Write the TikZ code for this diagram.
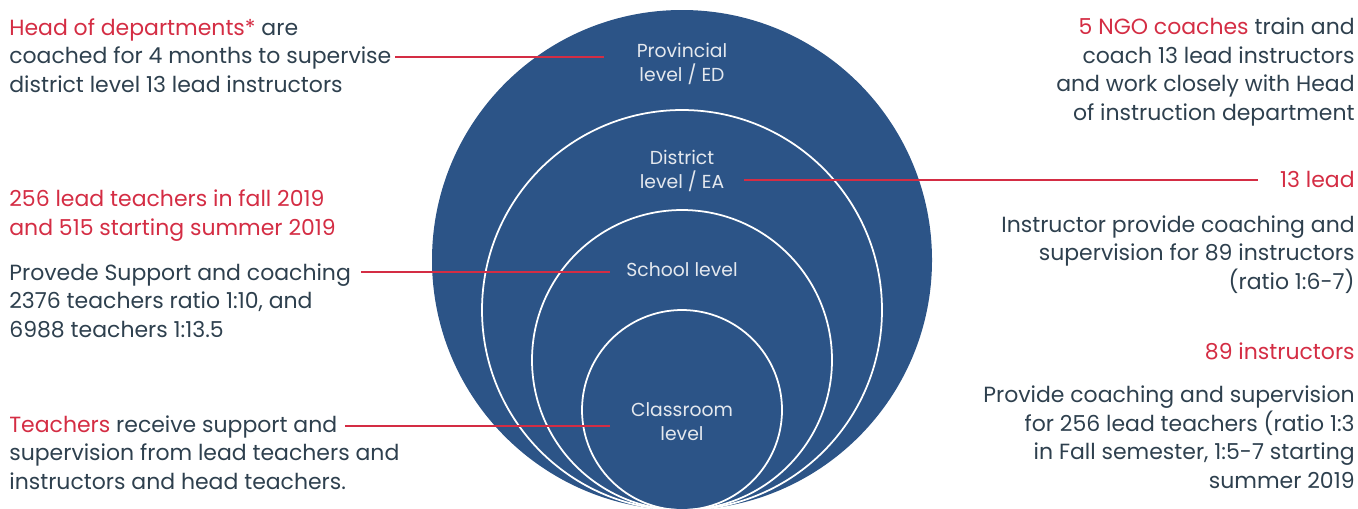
\documentclass[tikz,border=0pt]{standalone}
\usepackage{fontspec}
\setmainfont{Poppins}
\definecolor{levelblue}{RGB}{44,84,135}
\definecolor{leadred}{RGB}{212,45,68}
\definecolor{inkgray}{RGB}{46,64,78}
\definecolor{labelwhite}{RGB}{228,232,238}
\newcommand{\hl}[1]{{\color{leadred}#1}}
\tikzset{
  sidetext/.style={font=\fontsize{12.5}{16.2}\selectfont, text=inkgray, inner sep=0pt},
  leftnote/.style={sidetext, align=left, anchor=base west},
  rightnote/.style={sidetext, align=right, anchor=base east},
  levelname/.style={font=\fontsize{10.7}{13.6}\selectfont, text=labelwhite, align=center, inner sep=0pt, anchor=base},
  leader/.style={draw=leadred, line width=1.4pt},
  ring/.style={draw=white, line width=1pt},
}
\begin{document}
\begin{tikzpicture}[x=0.02cm,y=-0.02cm]
  \useasboundingbox (0,0) rectangle (1358,508);

  % nested levels
  \begin{scope}
    \clip (0,0) rectangle (1358,508);
    \fill[levelblue] (682,260) circle (250);
    \draw[ring] (682,310) circle (200);
    \draw[ring] (682,360) circle (150);
    \draw[ring] (682,410) circle (100);
  \end{scope}

  % labels sit on the baseline of their last line
  \node[levelname] (prov) at (682,81) {Provincial\\level / ED};
  \node[levelname] (dist) at (682,188) {District\\level / EA};
  \node[levelname] (school) at (682,276) {School level};
  \node[levelname] (class) at (682,440) {Classroom\\level};

  % left notes
  \node[leftnote] (heads) at (9,92) {\hl{Head of departments*} are\\coached for 4 months to supervise\\district level 13 lead instructors};
  \node[leftnote] (leadt) at (9,235) {\hl{256 lead teachers in fall 2019}\\\hl{and 515 starting summer 2019}};
  \node[leftnote] (support) at (9,337) {Provede Support and coaching\\2376 teachers ratio 1:10, and\\6988 teachers 1:13.5};
  \node[leftnote] (teach) at (9,489) {\hl{Teachers} receive support and\\supervision from lead teachers and\\instructors and head teachers.};

  % right notes
  \node[rightnote] (ngo) at (1355,120) {\hl{5 NGO coaches} train and\\coach 13 lead instructors\\and work closely with Head\\of instruction department};
  \node[rightnote] (lead13) at (1355,187) {\hl{13 lead}};
  \node[rightnote] (instr) at (1355,289) {Instructor provide coaching and\\supervision for 89 instructors\\(ratio 1:6-7)};
  \node[rightnote] (inst89) at (1355,359) {\hl{89 instructors}};
  \node[rightnote] (provide) at (1355,488) {Provide coaching and supervision\\for 256 lead teachers (ratio 1:3\\in Fall semester, 1:5-7 starting\\summer 2019};

  % leaders
  \coordinate (a1) at (395,57);
  \coordinate (a2) at (604,57);
  \coordinate (b1) at (744,180);
  \coordinate (b2) at (1258,180);
  \coordinate (c1) at (361,272);
  \coordinate (c2) at (610,272);
  \coordinate (d1) at (345,426);
  \coordinate (d2) at (610,426);
  \draw[leader] (a1) -- (a2);
  \draw[leader] (b1) -- (b2);
  \draw[leader] (c1) -- (c2);
  \draw[leader] (d1) -- (d2);
\end{tikzpicture}
\end{document}
